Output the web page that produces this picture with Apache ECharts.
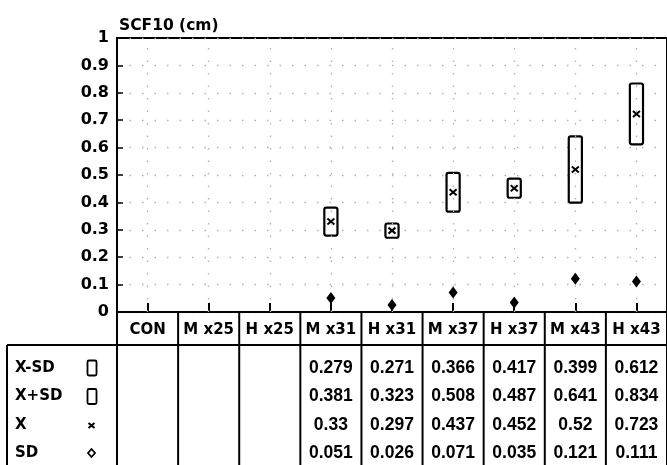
<!DOCTYPE html>
<html>
<head>
<meta charset="utf-8">
<script src="https://cdn.jsdelivr.net/npm/echarts@6/dist/echarts.min.js"></script>
<style>
html,body{margin:0;padding:0;background:#fff;}
#chart{width:667px;height:465px;}
</style>
</head>
<body>
<div id="chart"></div>
<script>
// ---- data ----
const categories = ['CON', 'M x25', 'H x25', 'M x31', 'H x31', 'M x37', 'H x37', 'M x43', 'H x43'];
const lowVals  = [null, null, null, 0.279, 0.271, 0.366, 0.417, 0.399, 0.612]; // X-SD
const highVals = [null, null, null, 0.381, 0.323, 0.508, 0.487, 0.641, 0.834]; // X+SD
const meanVals = [null, null, null, 0.33, 0.297, 0.437, 0.452, 0.52, 0.723];   // X
const sdVals   = [null, null, null, 0.051, 0.026, 0.071, 0.035, 0.121, 0.111];  // SD
const rowLabels = ['X-SD', 'X+SD', 'X', 'SD'];
const rowData = [lowVals, highVals, meanVals, sdVals];
const yTitle = 'SCF10 (cm)';

const boldFont = 'DejaVu Sans';
const valFont = 'Liberation Sans';

const chart = echarts.init(document.getElementById('chart'));

const boxData = [];
const sdData = [];
categories.forEach((c, i) => {
  if (lowVals[i] != null) boxData.push([i, lowVals[i], highVals[i], meanVals[i]]);
  if (sdVals[i] != null) sdData.push([i, sdVals[i]]);
});

const gridLineStyle = { color: '#b0b0b0', width: 1.3, type: [1.5, 11] };

chart.setOption({
  animation: false,
  grid: { left: 117, top: 38, right: -6, bottom: 153, show: true, borderColor: '#000', borderWidth: 2, backgroundColor: 'transparent' },
  title: {
    text: yTitle, left: 114, top: 13,
    textStyle: { fontFamily: boldFont, fontWeight: 'bold', fontSize: 15.5, color: '#000' }
  },
  xAxis: {
    type: 'category', data: categories, boundaryGap: true,
    axisLine: { lineStyle: { color: '#000', width: 2 } },
    axisTick: { show: true, alignWithLabel: true, inside: true, length: 9, lineStyle: { color: '#000', width: 2 } },
    axisLabel: { interval: 0, margin: 11, fontFamily: boldFont, fontWeight: 'bold', fontSize: 15, color: '#000' },
    splitLine: { show: false }
  },
  yAxis: {
    type: 'value', min: 0, max: 1, interval: 0.1,
    axisLine: { show: true, lineStyle: { color: '#000', width: 2 } },
    axisTick: { show: true, inside: true, length: 6, lineStyle: { color: '#000', width: 1.5 } },
    axisLabel: { margin: 8, fontFamily: boldFont, fontWeight: 'bold', fontSize: 16, color: '#000' },
    splitLine: { show: true, lineStyle: gridLineStyle }
  },
  series: [
    {
      type: 'scatter', data: sdData, symbol: 'diamond', symbolSize: [9, 12],
      itemStyle: { color: '#000', opacity: 1 }, z: 5,
      markLine: {
        silent: true, symbol: 'none', label: { show: false },
        lineStyle: gridLineStyle,
        data: categories.map(c => ({ xAxis: c }))
      }
    },
    {
      type: 'custom', data: boxData, z: 4,
      encode: { x: 0, y: [1, 2, 3] },
      renderItem: function (params, api) {
        const x = api.value(0), lo = api.value(1), hi = api.value(2), m = api.value(3);
        const pLo = api.coord([x, lo]), pHi = api.coord([x, hi]), pM = api.coord([x, m]);
        const w = api.size([1, 0])[0] * 0.215;
        return {
          type: 'group',
          children: [
            { type: 'rect', shape: { x: pLo[0] - w / 2, y: pHi[1], width: w, height: pLo[1] - pHi[1], r: 2 },
              style: { fill: '#fff', stroke: '#000', lineWidth: 2.2 } },
            { type: 'line', shape: { x1: pM[0] - 3.5, y1: pM[1] - 3, x2: pM[0] + 3.5, y2: pM[1] + 3 },
              style: { stroke: '#000', lineWidth: 2 } },
            { type: 'line', shape: { x1: pM[0] - 3.5, y1: pM[1] + 3, x2: pM[0] + 3.5, y2: pM[1] - 3 },
              style: { stroke: '#000', lineWidth: 2 } }
          ]
        };
      }
    }
  ]
});

// ---- table below the chart, built from the data arrays ----
const x0 = chart.convertToPixel({ xAxisIndex: 0 }, 0);
const x1 = chart.convertToPixel({ xAxisIndex: 0 }, 1);
const band = x1 - x0;
const axisY = chart.convertToPixel({ yAxisIndex: 0 }, 0);
const axisLeft = x0 - band / 2;
const headerBottom = axisY + 33;
const tableLeft = 7;
const tableBottom = 470;
const rowY = [368, 396.5, 425.5, 453];
const black = { stroke: '#000', lineWidth: 2 };
const g = [];
g.push({ type: 'line', shape: { x1: tableLeft, y1: headerBottom, x2: 700, y2: headerBottom }, style: black });
g.push({ type: 'line', shape: { x1: tableLeft, y1: headerBottom, x2: tableLeft, y2: tableBottom }, style: black });
g.push({ type: 'line', shape: { x1: axisLeft, y1: axisY, x2: axisLeft, y2: tableBottom }, style: black });
categories.forEach((c, i) => {
  const cx = chart.convertToPixel({ xAxisIndex: 0 }, i);
  g.push({ type: 'line', shape: { x1: cx + band / 2, y1: axisY, x2: cx + band / 2, y2: tableBottom }, style: black });
  rowData.forEach((arr, r) => {
    if (arr[i] != null) {
      g.push({ type: 'text', x: cx, y: rowY[r], style: {
        text: String(arr[i]), fill: '#000', font: 'bold 17.5px "' + valFont + '"',
        textAlign: 'center', textVerticalAlign: 'middle' } });
    }
  });
});
rowLabels.forEach((lab, r) => {
  g.push({ type: 'text', x: 15, y: rowY[r], style: {
    text: lab, fill: '#000', font: 'bold 15px "' + boldFont + '"',
    textAlign: 'left', textVerticalAlign: 'middle' } });
});
const sx = 91.5;
[0, 1].forEach(r => {
  g.push({ type: 'rect', shape: { x: sx - 4, y: rowY[r] - 7.5, width: 9, height: 15, r: 1.5 },
    style: { fill: '#fff', stroke: '#000', lineWidth: 1.8 } });
});
g.push({ type: 'line', shape: { x1: sx - 3, y1: rowY[2] - 2.5, x2: sx + 3, y2: rowY[2] + 2.5 }, style: { stroke: '#000', lineWidth: 2 } });
g.push({ type: 'line', shape: { x1: sx - 3, y1: rowY[2] + 2.5, x2: sx + 3, y2: rowY[2] - 2.5 }, style: { stroke: '#000', lineWidth: 2 } });
g.push({ type: 'polygon', shape: { points: [[sx, rowY[3] - 4], [sx + 3.5, rowY[3]], [sx, rowY[3] + 4], [sx - 3.5, rowY[3]]] },
  style: { fill: '#fff', stroke: '#000', lineWidth: 1.8 } });

chart.setOption({ graphic: g });
</script>
</body>
</html>
